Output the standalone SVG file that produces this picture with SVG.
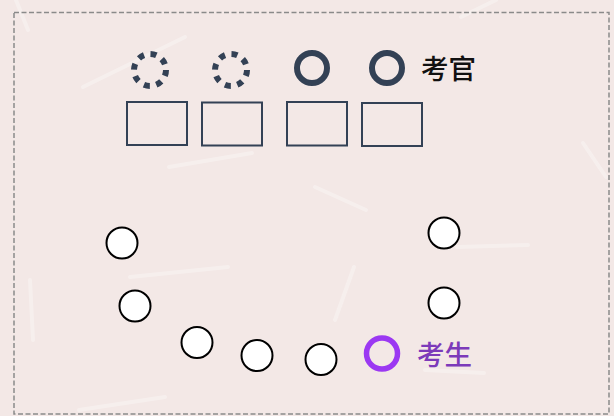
<svg xmlns="http://www.w3.org/2000/svg" width="614" height="416" viewBox="0 0 614 416">
<style>
.bg{fill:#f3e8e6}
.streak{stroke:#ffffff;stroke-width:4;stroke-linecap:round;opacity:0.3;fill:none}
.frame{fill:none;stroke:#8a8a8a;stroke-width:1.5;stroke-dasharray:5 2.5}
.desk{fill:none;stroke:#334155;stroke-width:2}
.exam{fill:none;stroke:#334155;stroke-width:6}
.examd{fill:none;stroke:#334155;stroke-width:6;stroke-dasharray:6 6.57}
.stu{fill:#ffffff;stroke:#000000;stroke-width:2}
.me{fill:none;stroke:#9b38f2;stroke-width:5.5}
.lbl{font-family:"Noto Sans CJK SC","Noto Sans CJK JP",sans-serif;font-size:27.5px;font-weight:500}
</style>
<rect class="bg" x="0" y="0" width="614" height="416"/>
<g id="texture">
<line class="streak" x1="83" y1="87" x2="185" y2="37"/>
<line class="streak" x1="169" y1="167" x2="252" y2="153"/>
<line class="streak" x1="315" y1="187" x2="366" y2="210"/>
<line class="streak" x1="583" y1="143" x2="606" y2="177"/>
<line class="streak" x1="130" y1="277" x2="228" y2="267"/>
<line class="streak" x1="335" y1="320" x2="354" y2="267"/>
<line class="streak" x1="457" y1="247" x2="528" y2="245"/>
<line class="streak" x1="30" y1="280" x2="33" y2="340"/>
<line class="streak" x1="461" y1="17" x2="496" y2="0"/>
<line class="streak" x1="425" y1="370" x2="484" y2="373"/>
<line class="streak" x1="79" y1="410" x2="165" y2="397"/>
<line class="streak" x1="16" y1="0" x2="28" y2="30"/>
</g>
<rect class="frame" x="14" y="12.5" width="595" height="401.5"/>
<g id="connectors"></g>
<g id="examiner-1"><circle class="examd" cx="150" cy="70" r="16"/></g>
<g id="examiner-2"><circle class="examd" cx="231" cy="70" r="16"/></g>
<g id="examiner-3"><circle class="exam" cx="312" cy="68" r="15"/></g>
<g id="examiner-4"><circle class="exam" cx="387" cy="68" r="15"/></g>
<g id="label-examiner"><text class="lbl" x="421" y="79" fill="#111111">考官</text></g>
<g id="desk-1"><rect class="desk" x="127" y="102" width="60" height="43"/></g>
<g id="desk-2"><rect class="desk" x="202" y="102.5" width="60" height="43"/></g>
<g id="desk-3"><rect class="desk" x="287" y="102" width="60" height="43.5"/></g>
<g id="desk-4"><rect class="desk" x="362" y="103" width="60" height="43"/></g>
<g id="student-1"><circle class="stu" cx="122" cy="243" r="15.5"/></g>
<g id="student-2"><circle class="stu" cx="135" cy="306" r="15.5"/></g>
<g id="student-3"><circle class="stu" cx="197" cy="342.5" r="15.5"/></g>
<g id="student-4"><circle class="stu" cx="257" cy="355.5" r="15.5"/></g>
<g id="student-5"><circle class="stu" cx="321" cy="359.5" r="15.5"/></g>
<g id="student-6"><circle class="stu" cx="444" cy="233" r="15.5"/></g>
<g id="student-7"><circle class="stu" cx="444" cy="303" r="15.5"/></g>
<g id="student-me"><circle class="me" cx="382" cy="353.5" r="15.5"/></g>
<g id="label-student"><text class="lbl" x="417" y="365" fill="#7c3aba">考生</text></g>
</svg>
